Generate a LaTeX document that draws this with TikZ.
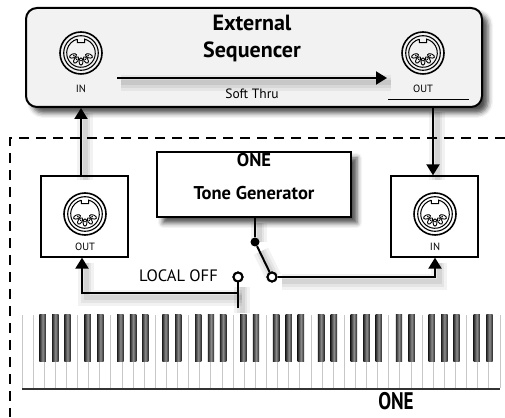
\documentclass[tikz,border=0pt]{standalone}
\usepackage{fontspec}
\usepackage{graphicx}
\setmainfont{PT Sans}
\usetikzlibrary{arrows.meta,shadows.blur}

\tikzset{
  x=1pt, y=1pt,
  wire/.style={line width=2pt, line cap=butt},
  lshadow/.style={
    preaction={-, draw=black, opacity=0.05, line width=16pt, transform canvas={shift={(4pt,-5pt)}}},
    preaction={-, draw=black, opacity=0.06, line width=10pt, transform canvas={shift={(4pt,-5pt)}}},
    preaction={-, draw=black, opacity=0.07, line width=5pt, transform canvas={shift={(4pt,-5pt)}}}},
  arr/.style={wire, lshadow, -{Triangle[width=13pt,length=11pt]}},
  seqbox/.style={draw, line width=2pt, rounded corners=11pt, fill=black!5,
    minimum width=456pt, minimum height=99pt, inner sep=0pt,
    blur shadow={shadow xshift=6pt, shadow yshift=-6pt, shadow blur radius=5pt, shadow opacity=70}},
  tonebox/.style={draw, line width=2.4pt, fill=white,
    minimum width=194pt, minimum height=65pt, inner sep=0pt,
    blur shadow={shadow xshift=6pt, shadow yshift=-6pt, shadow blur radius=5pt, shadow opacity=70}},
  portbox/.style={draw, line width=1.3pt, fill=white,
    minimum width=87pt, minimum height=81pt, inner sep=0pt},
  port/.style={circle, minimum size=42pt, inner sep=0pt},
  bigtitle/.style={font=\fontsize{22}{24}\selectfont\bfseries, inner sep=0pt},
  title/.style={font=\fontsize{18.5}{20}\selectfont\bfseries, inner sep=0pt},
  tag/.style={font=\fontsize{10.5}{12}\selectfont, inner sep=0pt},
  swopen/.style={circle, draw, line width=2pt, fill=white, minimum size=9pt, inner sep=0pt},
  swdot/.style={circle, fill, minimum size=9pt, inner sep=0pt},
  din/.pic={
    \draw[line width=1.6pt] (0,0) circle (21pt);
    \draw[line width=1.1pt] (0,0) circle (17.3pt);
    \draw[line width=1pt] (105:14.3pt) -- ++(0,-3.5pt) -- ([yshift=-3.5pt]75:14.3pt)
      -- (75:14.3pt) arc[start angle=75, end angle=-255, radius=14.3pt];
    \foreach \a in {200,235,270,305,340}{
      \draw[line width=0.9pt, shift={(\a:8.5pt)}, rotate=\a] (0,0) ellipse (3.6pt and 2pt);
      \fill[shift={(\a:8.5pt)}, rotate=\a] (-0.9pt,0) circle (0.9pt);
    }
  }
}

\begin{document}
\begin{tikzpicture}
\useasboundingbox (0,0) rectangle (505,417);

% ---- external sequencer ----
\node[seqbox] (seq) at (254,359.5) {};
\node[bigtitle] (ext) at (252,394) {External};
\node[bigtitle] (seqname) at (252,365) {Sequencer};
\node[port] (seqIn) at (81,364) {};
\pic at (seqIn) {din};
\node[tag] (seqInTag) at (81,328) {IN};
\node[port] (seqOut) at (423,364) {};
\pic at (seqOut) {din};
\node[tag] (seqOutTag) at (423,328) {OUT};
\draw[line width=0.6pt] (388,318) -- (469,318);
\coordinate (thruA) at (117,339);
\coordinate (thruB) at (387,339);
\draw[arr] (thruA) -- (thruB);
\node[font=\fontsize{13.5}{16}\selectfont, inner sep=0pt] (thru) at (252,323) {Soft Thru};

% ---- instrument boundary ----
\draw[line width=2pt, dash pattern=on 10pt off 7pt] (505,279) -- (10,279) -- (10,0);

% ---- tone generator and MIDI ports ----
\node[tonebox] (tone) at (254,232.5) {};
\node[title, anchor=north] (one) at (254,264) {ONE};
\node[title] (tg) at (254,224) {Tone Generator};

\node[portbox] (outBox) at (84.5,200.5) {};
\node[port] (outPort) at (85,203) {};
\pic at (outPort) {din};
\node[tag] (outTag) at (85,170) {OUT};

\node[portbox] (inBox) at (434.5,200.5) {};
\node[port] (inPort) at (435,203) {};
\pic at (inPort) {din};
\node[tag] (inTag) at (435,170) {IN};

% ---- connections ----
\draw[arr] (outBox.north -| seqIn) -- (seqIn |- seq.south);
\coordinate (outDrop) at (433,310);
\draw[arr] (outDrop) -- (outDrop |- inBox.north);

% local switch
\node[swdot] (pivot) at (255,175) {};
\node[swopen] (swR) at (272,140) {};
\node[swopen] (swL) at (238,140) {};
\coordinate (keyTap) at (238,109);
\coordinate (splitL) at (238,124);
\coordinate (outFeed) at (82,124);
\coordinate (inFeed) at (435,140);
\draw[wire, lshadow] (tone.south -| pivot) -- (pivot);
\draw[wire, lshadow] (pivot) -- (swR);
\draw[wire, lshadow] (swL) -- (keyTap);
\draw[arr] (splitL) -- (outFeed) -- (outFeed |- outBox.south);
\draw[arr] (swR) -- (inFeed) -- (inFeed |- inBox.south);
\node[swopen] at (swR) {};
\node[swopen] at (swL) {};
\node[font=\fontsize{16.5}{18}\selectfont, inner sep=0pt, anchor=east] (local) at (218,141) {LOCAL OFF};

% ---- keyboard ----
\begin{scope}
  \pgfmathsetmacro{\kw}{478/43}
  \fill[white] (22,28) rectangle (500,102);
  \foreach \k in {0,...,43}{
    \draw[black!22, line width=1pt] ({22+\k*\kw},29) -- ({22+\k*\kw},102);
  }
  \foreach \k in {1,...,42}{
    \pgfmathtruncatemacro{\m}{mod(\k,7)}
    \pgfmathsetmacro{\off}{\m==2 ? -1.6 : (\m==3 ? 0 : (\m==4 ? 1 : (\m==6 ? -1 : (\m==0 ? 0.6 : 99))))}
    \ifdim\off pt<50pt
      \shade[left color=black!85, right color=black!85, middle color=black!45]
        ({22+\k*\kw+\off-3.2},55) rectangle ({22+\k*\kw+\off+3.2},102);
    \fi
  }
  \draw[black!80, line width=2pt] (22,28) -- (500,28);
\end{scope}
\node[inner sep=0pt] (brand) at (396,16)
  {\scalebox{0.8}[1]{\fontsize{24}{26}\selectfont\bfseries ONE}};
\end{tikzpicture}
\end{document}
